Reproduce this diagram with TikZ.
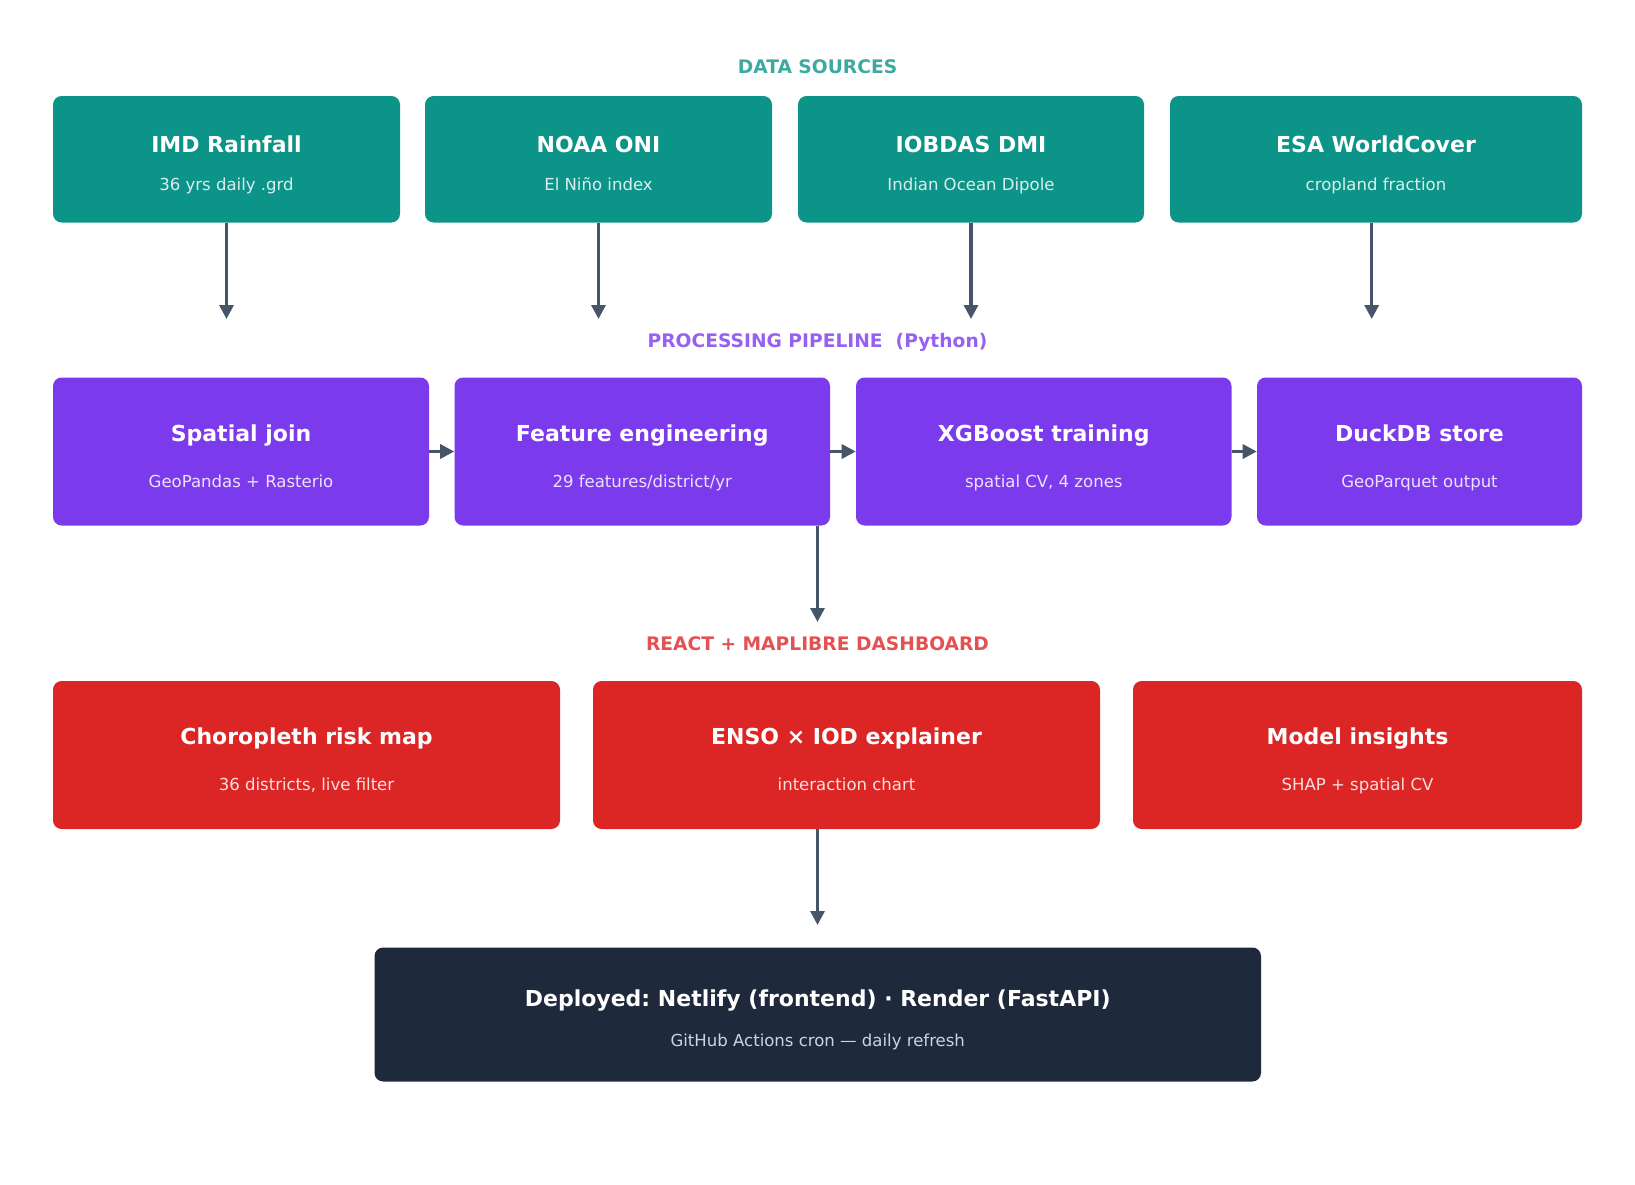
\documentclass[tikz,border=0pt]{standalone}
\usepackage{fontspec}
\setmainfont{DejaVu Sans}
\usetikzlibrary{arrows.meta,fit}
\frenchspacing

\definecolor{srcteal}{HTML}{0D9488}
\definecolor{pipeviolet}{HTML}{7C3AED}
\definecolor{dashred}{HTML}{DC2626}
\definecolor{deployslate}{HTML}{1E293B}
\definecolor{arrowgrey}{HTML}{475569}
\definecolor{subgrey}{HTML}{CBD5E1}

\begin{document}
\begin{tikzpicture}[x=0.75pt,y=0.75pt,yscale=-1,xscale=1,
  card/.style={rounded corners=6.5pt, inner sep=0pt, draw=none},
  cardtitle/.style={anchor=base, inner sep=0pt, text=white, font=\bfseries\fontsize{16.5}{19}\selectfont},
  cardsub/.style={anchor=base, inner sep=0pt, text=white, text opacity=0.85, font=\fontsize{12.4}{15}\selectfont},
  heading/.style={anchor=base, inner sep=0pt, font=\bfseries\fontsize{14}{16}\selectfont},
  flow/.style={draw=arrowgrey, line width=2.4pt, -{Triangle[length=10.5pt,width=10.5pt]}}]
%set diagram to 1635 x 1185
\useasboundingbox (0,0) rectangle (1635,1185);

%Headings
\node[heading, text=srcteal!80!white] (hsrc) at (817.5,73.3) {DATA SOURCES};
\node[heading, text=pipeviolet!80!white] (hpipe) at (817.5,347.7) {PROCESSING PIPELINE\ \ (Python)};
\node[heading, text=dashred!80!white] (hdash) at (817.5,650) {REACT + MAPLIBRE DASHBOARD};

%Data sources
\node[card, fill=srcteal, fit={(53,96) (400,222.5)}] (imd) {};
\node[card, fill=srcteal, fit={(425,96) (772,222.5)}] (noaa) {};
\node[card, fill=srcteal, fit={(798,96) (1144,222.5)}] (iobdas) {};
\node[card, fill=srcteal, fit={(1170,96) (1582,222.5)}] (esa) {};
\node[cardtitle] (imdT) at (226.5,152.7) {IMD Rainfall};
\node[cardsub] (imdS) at (226.5,190.7) {36 yrs daily .grd};
\node[cardtitle] (noaaT) at (598.5,152.7) {NOAA ONI};
\node[cardsub] (noaaS) at (598.5,190.7) {El Niño index};
\node[cardtitle] (iobdasT) at (971,152.7) {IOBDAS DMI};
\node[cardsub] (iobdasS) at (971,190.7) {Indian Ocean Dipole};
\node[cardtitle] (esaT) at (1376,152.7) {ESA WorldCover};
\node[cardsub] (esaS) at (1376,190.7) {cropland fraction};

%Processing pipeline
\node[card, fill=pipeviolet, fit={(53,377.5) (429,525.5)}] (sjoin) {};
\node[card, fill=pipeviolet, fit={(454.5,377.5) (830,525.5)}] (feat) {};
\node[card, fill=pipeviolet, fit={(856,377.5) (1231.5,525.5)}] (xgb) {};
\node[card, fill=pipeviolet, fit={(1257,377.5) (1582,525.5)}] (duck) {};
\node[cardtitle] (sjoinT) at (241,441) {Spatial join};
\node[cardsub] (sjoinS) at (241,487.3) {GeoPandas + Rasterio};
\node[cardtitle] (featT) at (642.3,441) {Feature engineering};
\node[cardsub] (featS) at (642.3,487.3) {29 features/district/yr};
\node[cardtitle] (xgbT) at (1043.8,441) {XGBoost training};
\node[cardsub] (xgbS) at (1043.8,487.3) {spatial CV, 4 zones};
\node[cardtitle] (duckT) at (1419.5,441) {DuckDB store};
\node[cardsub] (duckS) at (1419.5,487.3) {GeoParquet output};

%Dashboard
\node[card, fill=dashred, fit={(53,681) (560,829)}] (choro) {};
\node[card, fill=dashred, fit={(593,681) (1100,829)}] (enso) {};
\node[card, fill=dashred, fit={(1133,681) (1582,829)}] (insight) {};
\node[cardtitle] (choroT) at (306.5,744) {Choropleth risk map};
\node[cardsub] (choroS) at (306.5,790) {36 districts, live filter};
\node[cardtitle] (ensoT) at (846.5,744) {ENSO × IOD explainer};
\node[cardsub] (ensoS) at (846.5,790) {interaction chart};
\node[cardtitle] (insightT) at (1357.5,744) {Model insights};
\node[cardsub] (insightS) at (1357.5,790) {SHAP + spatial CV};

%Deployment
\node[card, fill=deployslate, fit={(374.5,947.5) (1261,1081.5)}] (deploy) {};
\node[cardtitle] (deployT) at (817.75,1006) {Deployed: Netlify (frontend) · Render (FastAPI)};
\node[cardsub, text=subgrey, text opacity=1] (deployS) at (817.75,1046.7) {GitHub Actions cron — daily refresh};

%Arrow ends
\coordinate (a1) at (226.5,319);
\coordinate (a2) at (598.5,319);
\coordinate (a3) at (971,319);
\coordinate (a4) at (1371.7,319);
\coordinate (pipeout) at (817.5,622);
\coordinate (dashout) at (817.5,925);

%Arrows
\draw[flow] (imd) -- (a1);
\draw[flow] (noaa) -- (a2);
\draw[flow] (iobdas) -- (a3);
\draw[flow] (esa.south -| a4) -- (a4);
\draw[flow] (sjoin) -- (feat);
\draw[flow] (feat) -- (xgb);
\draw[flow] (xgb) -- (duck);
\draw[flow] (feat.south -| pipeout) -- (pipeout);
\draw[flow] (enso.south -| dashout) -- (dashout);

\end{tikzpicture}
\end{document}
